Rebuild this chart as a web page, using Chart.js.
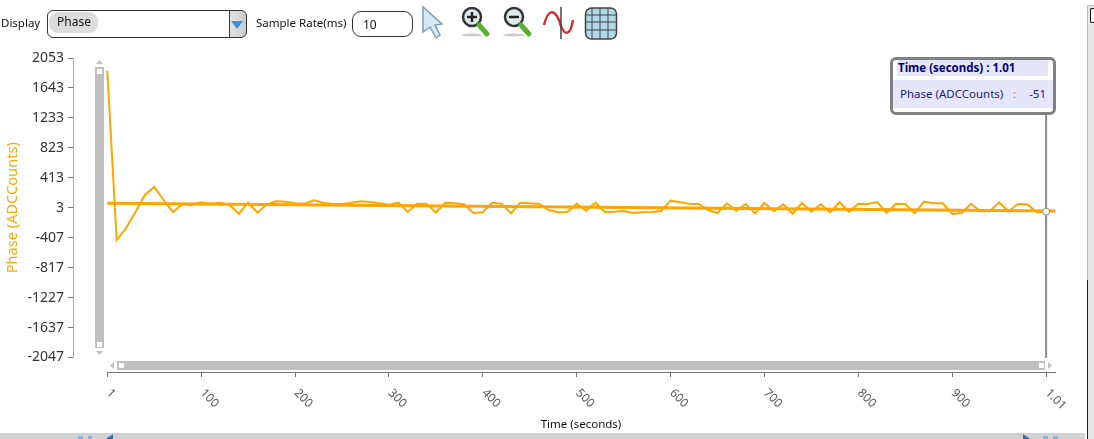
<!DOCTYPE html>
<html>
<head>
<meta charset="utf-8">
<script src="https://cdn.jsdelivr.net/npm/chart.js@4"></script>
<style>
	html, body { margin: 0; padding: 0; background: #fff; overflow: hidden; }
	body { width: 1094px; height: 439px; position: relative; font-family: "Noto Sans", sans-serif; color: #111; }
	#chart1 { position: absolute; left: 0; top: 0; }
	.abs { position: absolute; box-sizing: border-box; }
	.lbl { font-size: 11.5px; white-space: nowrap; }
	.bar { background: #c0c0c0; }
	.handle { background: #fff; }
	.tip { background: #e6e6fa; font-size: 11.5px; white-space: nowrap; }
</style>
</head>
<body>
<canvas id="chart1" width="1094" height="439"></canvas>

<div class="abs lbl" style="left:1px;top:15px">Display</div>
<div class="abs" style="left:47px;top:10px;width:200px;height:28px;border:1px solid #333;border-radius:6px;background:linear-gradient(90deg,#fff 91.5%,#333 91.5%,#333 92%,#e2e2e2 92%,#ccc)"></div>
<div class="abs" style="left:49px;top:12px;width:49px;height:21px;background:#dcdcdc;border-radius:9px;font-size:12px;padding:1px 0 0 8px">Phase</div>
<svg class="abs" style="left:230px;top:19px" width="14" height="12"><path d="M1 2H13L7 10Z" fill="#3d8fe0"/></svg>
<div class="abs lbl" style="left:256px;top:15px">Sample Rate(ms)</div>
<div class="abs" style="left:352px;top:11px;width:61px;height:26px;border:1px solid #333;border-radius:9px;font-size:12px;padding:4px 0 0 10px">10</div>

<svg class="abs" style="left:420px;top:4px" width="200" height="42">
	<path d="M3 3L3 28L10 23L16 34L20 31L15 21L22 20Z" fill="#d5e9f5" stroke="#7f9db5" stroke-width="1.5"/>
	<ellipse cx="52" cy="31" rx="11" ry="1.5" fill="#ccc"/>
	<circle cx="52" cy="13" r="9" fill="#dcebea" stroke="#333" stroke-width="2.5"/>
	<path d="M47 13H57M52 8V18" stroke="#222" stroke-width="2.5"/>
	<path d="M59 21L67 30" stroke="#58b030" stroke-width="5" stroke-linecap="round"/>
	<ellipse cx="94" cy="31" rx="11" ry="1.5" fill="#ccc"/>
	<circle cx="94" cy="13" r="9" fill="#dcebea" stroke="#333" stroke-width="2.5"/>
	<path d="M89 13H99" stroke="#222" stroke-width="2.5"/>
	<path d="M101 21L109 30" stroke="#58b030" stroke-width="5" stroke-linecap="round"/>
	<path d="M124 21C128 5 134 5 139 16C143 32 150 34 153 16" fill="none" stroke="#cc3333" stroke-width="2.5"/>
	<path d="M141 3V35" stroke="#444" stroke-width="1.5"/>
	<rect x="165.5" y="4" width="31" height="31" rx="6" fill="#aed7e8" stroke="#444" stroke-width="1.5"/>
	<path d="M166 11H196M166 18H196M166 26H196M172 4V35M180 4V35M188 4V35" stroke="#444"/>
</svg>

<!-- scroll bars -->
<div class="abs bar" style="left:95px;top:67px;width:9px;height:281px"></div>
<div class="abs handle" style="left:97px;top:69px;width:5px;height:5px"></div>
<div class="abs handle" style="left:97px;top:342px;width:5px;height:5px"></div>
<svg class="abs" style="left:94px;top:59px" width="11" height="6"><path d="M2 5H9L5.5 1Z" fill="#c0c0c0"/></svg>
<svg class="abs" style="left:94px;top:350px" width="11" height="6"><path d="M2 1H9L5.5 5Z" fill="#c0c0c0"/></svg>
<div class="abs bar" style="left:117px;top:361px;width:928px;height:9px"></div>
<div class="abs handle" style="left:119px;top:363px;width:5px;height:5px"></div>
<div class="abs handle" style="left:1039px;top:363px;width:5px;height:5px"></div>
<svg class="abs" style="left:109px;top:360px" width="6" height="11"><path d="M5 2V9L1 5.5Z" fill="#c0c0c0"/></svg>
<svg class="abs" style="left:1047px;top:360px" width="6" height="11"><path d="M1 2V9L5 5.5Z" fill="#c0c0c0"/></svg>

<!-- value box -->
<div class="abs" style="left:890px;top:57px;width:166px;height:58px;border:3px solid #808080;border-radius:6px;background:#fff"></div>
<div class="abs tip" style="left:897px;top:60px;width:151px;height:16px;color:#00007a;font-weight:700;padding-left:1px;line-height:16px">Time (seconds) : 1.01</div>
<div class="abs tip" style="left:893px;top:80px;width:160px;height:28px;color:#1a1a8a;line-height:28px;padding-left:7px">Phase (ADCCounts)<span style="position:absolute;left:120px;color:#b5793a">:</span><span style="position:absolute;right:7px">-51</span></div>

<!-- window edges -->
<div class="abs" style="left:0;top:433px;width:1085px;height:6px;background:#d2d2d2"></div>
<div class="abs" style="left:78px;top:436px;width:5px;height:3px;background:#8ab4dc"></div>
<div class="abs" style="left:88px;top:436px;width:4px;height:3px;background:#8ab4dc"></div>
<svg class="abs" style="left:106px;top:433px" width="8" height="6"><path d="M0 6L7 1V6Z" fill="#2f6fc0"/></svg>
<svg class="abs" style="left:1023px;top:433px" width="8" height="6"><path d="M0 1L7 6H0Z" fill="#2f6fc0"/></svg>
<div class="abs" style="left:1043px;top:436px;width:5px;height:3px;background:#8ab4dc"></div>
<div class="abs" style="left:1053px;top:436px;width:5px;height:3px;background:#8ab4dc"></div>
<div class="abs" style="left:1087px;top:5px;width:7px;height:434px;background:#e6e6e6;border-top:1px solid #bbb"></div>
<div class="abs" style="left:1087px;top:5px;width:1px;height:275px;background:#bbb"></div>
<div class="abs" style="left:1087px;top:280px;width:1px;height:159px;background:#222"></div>
<div class="abs" style="left:1090px;top:8px;width:4px;height:15px;border:1.5px solid #111;border-right:0;border-radius:2px 0 0 2px;background:#fff"></div>

<script>
// samples, one every ten ms
var phaseValues = [
	1876, -439, -275, -55, 178, 287, 109, -55, 54, 41,
	78, 58, 72, 45, -79, 72, -65, 50, 91, 86,
	64, 58, 105, 72, 54, 54, 72, 91, 82, 64,
	45, 75, -55, 58, 58, -62, 72, 64, 50, -69,
	-59, 72, 58, -73, 72, 64, 54, -28, -59, -55,
	58, -39, 72, -55, -51, -42, -69, -59, -55, -42,
	100, 78, 58, 54, -28, -69, 64, -37, 54, -73,
	68, -46, 50, -79, 68, -51, 50, -59, 78, -55,
	58, 54, 82, -65, 58, 54, -73, 86, 64, 64,
	-83, -69, 58, -46, -46, 78, -46, 54, 50, -55,
	-51
];
var trendValues = [64, -42];
var xTickLabels = ["1", "100", "200", "300", "400", "500", "600", "700", "800", "900", "1.01"];
var cursorIndex = 100;

var phasePoints = phaseValues.map(function (v, i) { return { x: i, y: v }; });
var trendPoints = [{ x: 0, y: trendValues[0] }, { x: 101, y: trendValues[1] }];

var ORANGE = "#ffa500";
var ctx = document.getElementById("chart1").getContext("2d");

// the axes sit apart from the plot in this chart
var moveAxes = {
	id: "moveAxes",
	afterLayout: function (chart) {
		chart.scales.y.right -= 34.3;
		chart.scales.x.top += 14.5;
		chart.scales.x.bottom += 14.5;
	}
};

var cursorLine = {
	id: "cursorLine",
	beforeDatasetsDraw: function (chart) {
		var x = chart.scales.x.getPixelForValue(cursorIndex);
		var c = chart.ctx;
		c.save();
		c.strokeStyle = "#8a8a8a";
		c.lineWidth = 2;
		c.beginPath();
		c.moveTo(x, 114);
		c.lineTo(x, 358);
		c.stroke();
		// y axis line
		c.strokeStyle = ORANGE;
		c.lineWidth = 1;
		c.beginPath();
		c.moveTo(73.5, chart.scales.y.getPixelForValue(2053));
		c.lineTo(73.5, chart.scales.y.getPixelForValue(-2047));
		c.stroke();
		c.restore();
	}
};

// slanted down to the right, which the built in rotation can't anchor
var slantedTicks = {
	id: "slantedTicks",
	afterDraw: function (chart) {
		var s = chart.scales.x;
		var c = chart.ctx;
		c.save();
		c.font = '12px "Noto Sans"';
		c.fillStyle = "#555";
		c.textAlign = "left";
		c.textBaseline = "middle";
		s.ticks.forEach(function (t, i) {
			c.save();
			c.translate(s.getPixelForValue(t.value) + 1, 391);
			c.rotate(Math.PI / 4);
			c.fillText(xTickLabels[i], 0, 0);
			c.restore();
		});
		c.font = '11.5px "Noto Sans"';
		c.fillStyle = "#111";
		c.textAlign = "center";
		c.fillText("Time (seconds)", 581, 425);
		c.restore();
	}
};

new Chart(ctx, {
	type: "scatter",
	data: {
		datasets: [
			{
				label: "Cursor",
				data: [phasePoints[cursorIndex]],
				order: 0,
				pointRadius: 3.5,
				pointBackgroundColor: "#fff",
				pointBorderColor: "#8a8a8a",
				pointBorderWidth: 1
			},
			{
				label: "Trend",
				data: trendPoints,
				order: 1,
				showLine: true,
				borderColor: ORANGE,
				borderWidth: 3,
				pointRadius: 0
			},
			{
				label: "Phase (ADCCounts)",
				data: phasePoints,
				order: 2,
				showLine: true,
				fill: false,
				borderColor: ORANGE,
				borderWidth: 2,
				tension: 0,
				pointRadius: 0
			}
		]
	},
	options: {
		responsive: false,
		animation: false,
		clip: false,
		layout: { padding: { left: 0, top: 58, right: 38.5, bottom: 0 } },
		plugins: { legend: { display: false }, tooltip: { enabled: false } },
		scales: {
			x: {
				type: "linear",
				min: 0,
				max: 101,
				afterFit: function (s) { s.height = 81.5; },
				grid: { drawOnChartArea: false, color: "#777", tickLength: 5 },
				border: { color: "#777", width: 1 },
				ticks: {
					stepSize: 10,
					includeBounds: false,
					autoSkip: false,
					maxRotation: 0,
					callback: function () { return ""; }
				}
			},
			y: {
				min: -2047,
				max: 2053,
				afterFit: function (s) { s.width = 107.3; },
				grid: { drawOnChartArea: false, color: "#777", tickLength: 5 },
				border: { display: false },
				title: {
					display: true,
					text: "Phase (ADCCounts)",
					color: ORANGE,
					font: { family: "Noto Sans", size: 14.6 },
					padding: { top: 4, bottom: 0 }
				},
				ticks: {
					stepSize: 410,
					color: "#333",
					padding: 4,
					font: { family: "Noto Sans", size: 14 },
					callback: function (v) { return String(v); }
				}
			}
		}
	},
	plugins: [moveAxes, cursorLine, slantedTicks]
});
</script>
</body>
</html>
